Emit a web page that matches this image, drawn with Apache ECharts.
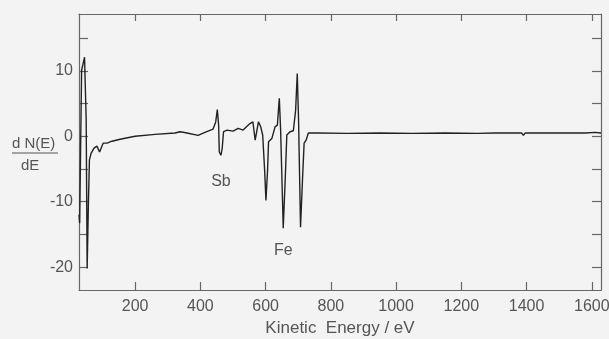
<!DOCTYPE html>
<html>
<head>
<meta charset="utf-8">
<script src="https://cdn.jsdelivr.net/npm/echarts@6/dist/echarts.min.js"></script>
<style>
html,body{margin:0;padding:0;background:#f3f3f3;}
#c{width:609px;height:339px;}
</style>
</head>
<body>
<div id="c"></div>
<script>
// Kinetic energy (eV)
var energy = [28,30,36,45,50,53,57,60,65,74,83,91,102,114,129,154,200,261,322,338,359,393,414,439,447,452,456,458,463,467,471,482,500,516,531,543,552,561,568,578,585,591,597,601,606,609,619,629,636,642,646,654,660,665,675,685,692,697,701,707,713,718,724,731,760,850,950,1050,1150,1250,1300,1385,1390,1396,1450,1500,1580,1610,1628];
// dN(E)/dE values
var signal = [-12,-13.3,10.1,12.1,2.5,-20.2,-9.8,-3.6,-2.6,-1.8,-1.5,-2.4,-1.05,-1.05,-0.75,-0.45,0.0,0.3,0.5,0.7,0.5,0.15,0.6,1.1,2.2,4.1,1.7,-2.4,-2.9,-1.8,0.7,0.95,0.8,1.2,0.95,1.55,1.95,2.2,-0.6,2.2,1.45,0.2,-5.2,-9.8,-5.2,-0.85,-0.35,1.45,1.7,5.8,0.95,-14.05,-6.7,0.2,0.7,0.85,4.0,9.6,2.5,-13.9,-6.7,-1.05,-0.6,0.5,0.5,0.45,0.5,0.45,0.5,0.45,0.5,0.5,0.15,0.5,0.5,0.5,0.5,0.6,0.5];
var xTickLabels = [200,400,600,800,1000,1200,1400,1600];
var yTickLabels = [10,0,-10,-20];
var yMinorTicks = [15,10,5,0,-5,-10,-15,-20];
var annotations = [{text:'Sb', e:463, v:-6.9},{text:'Fe', e:654, v:-17.4}];

var data = energy.map(function(e,i){return [e, signal[i]];});
var axisCol = '#666';
var txtCol = '#555';
var font = 'Liberation Sans';
var plain = function(v){return String(v);};

var chart = echarts.init(document.getElementById('c'), null, {renderer:'canvas'});
function frame(){ return {show:true, onZero:false, lineStyle:{color:axisCol, width:1.2}}; }
chart.setOption({
  backgroundColor:'#f3f3f3',
  animation:false,
  grid:{left:79, right:8, top:14, bottom:49, outerBoundsMode:'none'},
  xAxis:[{
    type:'value', min:28, max:1628, position:'bottom',
    axisLine:frame(),
    axisTick:{show:true, inside:true, length:8, customValues:xTickLabels, lineStyle:{color:axisCol, width:1.2}},
    axisLabel:{customValues:xTickLabels, formatter:plain, color:txtCol, fontFamily:font, fontSize:16, margin:9},
    splitLine:{show:false},
    name:'Kinetic  Energy / eV', nameLocation:'middle', nameGap:30,
    nameTextStyle:{color:txtCol, fontFamily:font, fontSize:17}
  },{
    type:'value', min:28, max:1628, position:'top',
    axisLine:frame(),
    axisTick:{show:true, inside:true, length:7, customValues:xTickLabels, lineStyle:{color:axisCol, width:1.2}},
    axisLabel:{show:false}, splitLine:{show:false}
  }],
  yAxis:[{
    type:'value', min:-23.5, max:18.7, position:'left',
    axisLine:frame(),
    axisTick:{show:true, inside:true, length:9, customValues:yMinorTicks, lineStyle:{color:axisCol, width:1.2}},
    axisLabel:{customValues:yTickLabels, formatter:plain, color:txtCol, fontFamily:font, fontSize:16, margin:6},
    splitLine:{show:false}
  },{
    type:'value', min:-23.5, max:18.7, position:'right',
    axisLine:frame(),
    axisTick:{show:true, inside:true, length:9, customValues:yMinorTicks, lineStyle:{color:axisCol, width:1.2}},
    axisLabel:{show:false}, splitLine:{show:false}
  }],
  series:[{
    type:'line', data:data, xAxisIndex:0, yAxisIndex:0,
    showSymbol:false, smooth:false,
    lineStyle:{color:'#222', width:1.4}
  }]
});
var graphics = [
  {type:'text', left:12, top:136, style:{text:'d N(E)', fill:txtCol, font:'15px "Liberation Sans"'}},
  {type:'line', shape:{x1:12, y1:153, x2:58, y2:153}, style:{stroke:txtCol, lineWidth:1.2}},
  {type:'text', left:21, top:158, style:{text:'dE', fill:txtCol, font:'15px "Liberation Sans"'}}
];
annotations.forEach(function(a){
  var p = chart.convertToPixel({xAxisIndex:0, yAxisIndex:0}, [a.e, a.v]);
  graphics.push({type:'text', x:p[0], y:p[1], style:{text:a.text, fill:txtCol, font:'16px "Liberation Sans"', align:'center', verticalAlign:'middle'}});
});
chart.setOption({graphic:graphics});
</script>
</body>
</html>
